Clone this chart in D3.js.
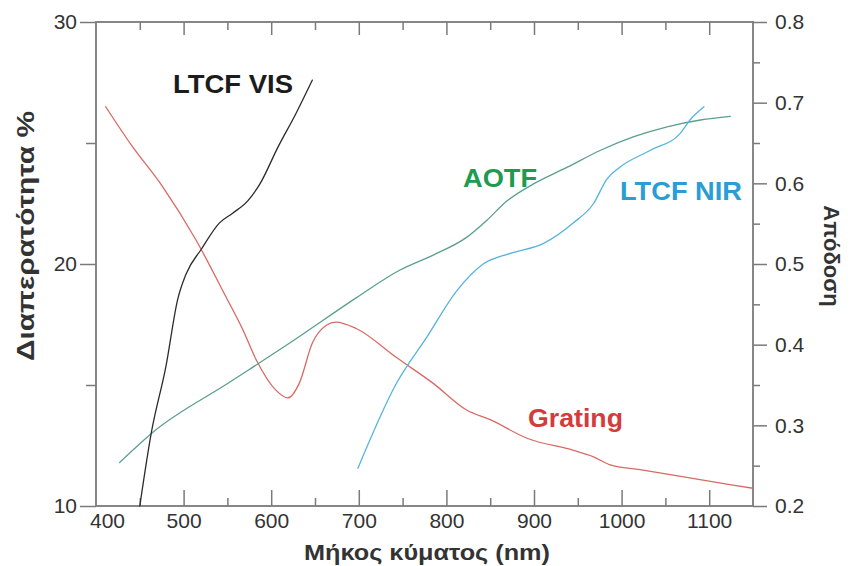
<!DOCTYPE html>
<html>
<head>
<meta charset="utf-8">
<script src="https://cdn.jsdelivr.net/npm/d3@7/dist/d3.min.js"></script>
<style>
  html, body { margin: 0; padding: 0; background: #fff; }
  svg { display: block; font-family: "Liberation Sans", Arial, sans-serif; }
</style>
</head>
<body>
<svg id="chart" width="850" height="566"></svg>
<script>
// ---- data ----
const xMajorTicks = [400, 500, 600, 700, 800, 900, 1000, 1100];
const xMinorTicks = [450, 550, 650, 750, 850, 950, 1050];
const leftMajorTicks = [10, 20, 30];
const leftMinorTicks = [15, 25];
const rightMajorTicks = [0.2, 0.3, 0.4, 0.5, 0.6, 0.7, 0.8];
const rightMinorTicks = [0.25, 0.35, 0.45, 0.55, 0.65, 0.75];

const visWl = [450, 463, 480, 493, 503, 520, 541, 556, 573, 587, 608, 628, 647];
const visT  = [10, 13.0, 15.8, 18.5, 19.6, 20.6, 21.7, 22.1, 22.6, 23.3, 24.85, 26.2, 27.6];

const aotfWl = [427, 465, 552, 628, 697, 747, 785, 823, 846, 869, 899, 938, 976, 1014, 1052, 1090, 1124];
const aotfT  = [11.8, 13.05, 15.1, 16.9, 18.6, 19.75, 20.37, 21.1, 21.8, 22.6, 23.3, 24.0, 24.7, 25.26, 25.67, 25.95, 26.1];

const nirWl = [699, 743, 778, 812, 842, 873, 911, 945, 968, 983, 998, 1033, 1067, 1078, 1094];
const nirT  = [11.56, 15.07, 17.0, 18.9, 20.0, 20.44, 20.85, 21.7, 22.5, 23.5, 24.0, 24.7, 25.4, 25.95, 26.5];

const gratWl  = [411, 440, 476, 514, 548, 567, 583, 605, 619, 632, 647, 663, 674, 697, 743, 785, 823, 850, 892, 945, 968, 987, 1021, 1071, 1127, 1150];
const gratEff = [0.695, 0.648, 0.596, 0.53, 0.46, 0.42, 0.381, 0.344, 0.334, 0.352, 0.402, 0.424, 0.428, 0.42, 0.384, 0.352, 0.319, 0.307, 0.284, 0.269, 0.261, 0.251, 0.245, 0.236, 0.226, 0.222];

const seriesLabels = ["LTCF VIS", "AOTF", "LTCF NIR", "Grating"];
const xTitle = "Μήκος κύματος (nm)";
const leftTitle = "Διαπερατότητα %";
const rightTitle = "Απόδοση";

// ---- layout ----
const L = 96, R = 753, T = 22, B = 506;
const svg = d3.select("#chart");
const x = d3.scaleLinear().domain([400, 1150]).range([L, R]);
const yL = d3.scaleLinear().domain([10, 30]).range([B, T]);
const yR = d3.scaleLinear().domain([0.2, 0.8]).range([B, T]);

const axisColor = "#7a7a7a";
const textColor = "#333";
const fs = 21;

function styleAxis(g) {
  g.attr("font-size", fs).attr("font-family", '"Liberation Sans", Arial, sans-serif');
  g.select(".domain").remove();
  g.selectAll(".tick line").attr("stroke", axisColor).attr("stroke-width", 1.5);
  g.selectAll(".tick text").attr("fill", textColor).attr("font-size", fs);
}

// frame
svg.append("rect").attr("x", L).attr("y", T).attr("width", R - L).attr("height", B - T)
  .attr("fill", "none").attr("stroke", axisColor).attr("stroke-width", 1.8);

// bottom axis (ticks inward)
const gB = svg.append("g").attr("transform", `translate(0,${B})`)
  .call(d3.axisBottom(x).tickValues(xMajorTicks).tickSize(-16).tickPadding(7).tickFormat(d3.format("d")))
  .call(styleAxis);
gB.selectAll(".tick").filter(d => d === 400).select("line").remove();
gB.selectAll(".tick").filter(d => d === 400).select("text").attr("dx", 11);
svg.append("g").attr("transform", `translate(0,${B})`)
  .call(d3.axisBottom(x).tickValues(xMinorTicks).tickSize(-8).tickFormat(""))
  .call(styleAxis);

// top axis (ticks inward)
svg.append("g").attr("transform", `translate(0,${T})`)
  .call(d3.axisTop(x).tickValues(xMajorTicks.filter(d => d > 400)).tickSize(-13).tickFormat(""))
  .call(styleAxis);
svg.append("g").attr("transform", `translate(0,${T})`)
  .call(d3.axisTop(x).tickValues(xMinorTicks).tickSize(-8).tickFormat(""))
  .call(styleAxis);

// left axis (ticks outward)
svg.append("g").attr("transform", `translate(${L},0)`)
  .call(d3.axisLeft(yL).tickValues(leftMajorTicks).tickSize(16).tickPadding(3).tickFormat(d3.format("d")))
  .call(styleAxis);
svg.append("g").attr("transform", `translate(${L},0)`)
  .call(d3.axisLeft(yL).tickValues(leftMinorTicks).tickSize(10).tickFormat(""))
  .call(styleAxis);

// right axis (ticks outward)
svg.append("g").attr("transform", `translate(${R},0)`)
  .call(d3.axisRight(yR).tickValues(rightMajorTicks).tickSize(14).tickPadding(8).tickFormat(d3.format(".1f")))
  .call(styleAxis);
svg.append("g").attr("transform", `translate(${R},0)`)
  .call(d3.axisRight(yR).tickValues(rightMinorTicks).tickSize(7).tickFormat(""))
  .call(styleAxis);

// ---- curves ----
function drawCurve(xs, ys, yScale, color) {
  const pts = xs.map((v, i) => [v, ys[i]]);
  const line = d3.line().x(d => x(d[0])).y(d => yScale(d[1])).curve(d3.curveMonotoneX);
  svg.append("path").datum(pts).attr("d", line)
    .attr("fill", "none").attr("stroke", color).attr("stroke-width", 1.3)
    .attr("stroke-linejoin", "round").attr("stroke-linecap", "round");
}
drawCurve(gratWl, gratEff, yR, "#d86a64");
drawCurve(aotfWl, aotfT, yL, "#5b9f90");
drawCurve(nirWl, nirT, yL, "#56b3dc");
drawCurve(visWl, visT, yL, "#2b2b2b");

// ---- series labels ----
const labelSpecs = [
  { text: seriesLabels[0], x: 173, y: 93,  color: "#1c1c1c", w: 120 },
  { text: seriesLabels[1], x: 463, y: 187, color: "#1f9a50", w: 74 },
  { text: seriesLabels[2], x: 620, y: 200, color: "#2a9dd4", w: 122 },
  { text: seriesLabels[3], x: 528, y: 427, color: "#d43c3c", w: 95 }
];
svg.selectAll("text.series").data(labelSpecs).enter().append("text")
  .attr("class", "series")
  .attr("x", d => d.x).attr("y", d => d.y)
  .attr("fill", d => d.color).attr("font-size", 26.5).attr("font-weight", "bold")
  .attr("textLength", d => d.w).attr("lengthAdjust", "spacingAndGlyphs")
  .text(d => d.text);

// ---- axis titles ----
svg.append("text").attr("x", 427).attr("y", 560)
  .attr("text-anchor", "middle").attr("font-size", 21.5).attr("font-weight", "bold")
  .attr("textLength", 246).attr("lengthAdjust", "spacingAndGlyphs")
  .attr("fill", textColor).text(xTitle);
svg.append("text").attr("transform", "translate(34,236) rotate(-90)")
  .attr("text-anchor", "middle").attr("font-size", 23).attr("font-weight", "bold")
  .attr("textLength", 250).attr("lengthAdjust", "spacingAndGlyphs")
  .attr("fill", textColor).text(leftTitle);
svg.append("text").attr("transform", "translate(824,256) rotate(90)")
  .attr("text-anchor", "middle").attr("font-size", 22).attr("font-weight", "bold")
  .attr("fill", textColor).text(rightTitle);
</script>
</body>
</html>
